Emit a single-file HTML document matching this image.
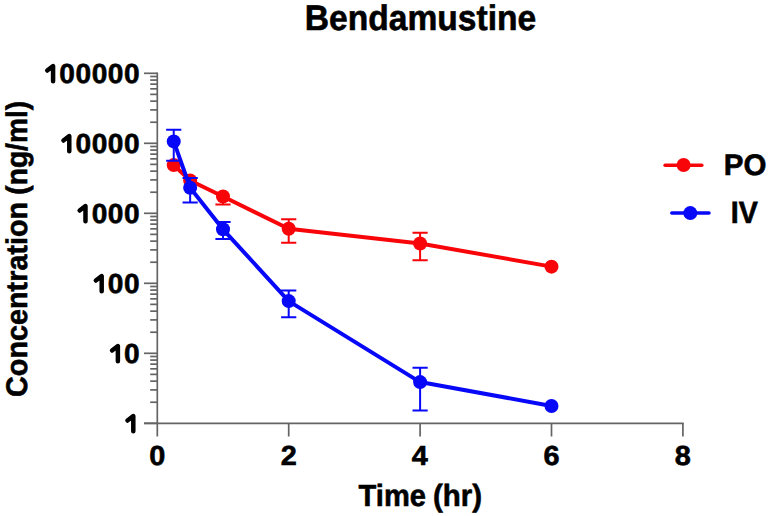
<!DOCTYPE html>
<html><head><meta charset="utf-8"><style>
html,body{margin:0;padding:0;background:#fff;}
body{width:768px;height:516px;overflow:hidden;font-family:"Liberation Sans",sans-serif;}
svg{display:block;}
</style></head><body>
<svg width="768" height="516" viewBox="0 0 768 516">
<rect width="768" height="516" fill="#fff"/>
<line x1="157.3" y1="72.50" x2="157.3" y2="436.50" stroke="#646464" stroke-width="1.7"/>
<line x1="144.00" y1="423.3" x2="683.70" y2="423.3" stroke="#646464" stroke-width="1.7"/>
<line x1="144.00" y1="423.30" x2="157.3" y2="423.30" stroke="#646464" stroke-width="1.7"/>
<line x1="150.20" y1="402.23" x2="157.3" y2="402.23" stroke="#646464" stroke-width="1.7"/>
<line x1="150.20" y1="389.90" x2="157.3" y2="389.90" stroke="#646464" stroke-width="1.7"/>
<line x1="150.20" y1="381.16" x2="157.3" y2="381.16" stroke="#646464" stroke-width="1.7"/>
<line x1="150.20" y1="374.37" x2="157.3" y2="374.37" stroke="#646464" stroke-width="1.7"/>
<line x1="150.20" y1="368.83" x2="157.3" y2="368.83" stroke="#646464" stroke-width="1.7"/>
<line x1="150.20" y1="364.14" x2="157.3" y2="364.14" stroke="#646464" stroke-width="1.7"/>
<line x1="150.20" y1="360.08" x2="157.3" y2="360.08" stroke="#646464" stroke-width="1.7"/>
<line x1="150.20" y1="356.50" x2="157.3" y2="356.50" stroke="#646464" stroke-width="1.7"/>
<line x1="144.00" y1="353.30" x2="157.3" y2="353.30" stroke="#646464" stroke-width="1.7"/>
<line x1="150.20" y1="332.23" x2="157.3" y2="332.23" stroke="#646464" stroke-width="1.7"/>
<line x1="150.20" y1="319.90" x2="157.3" y2="319.90" stroke="#646464" stroke-width="1.7"/>
<line x1="150.20" y1="311.16" x2="157.3" y2="311.16" stroke="#646464" stroke-width="1.7"/>
<line x1="150.20" y1="304.37" x2="157.3" y2="304.37" stroke="#646464" stroke-width="1.7"/>
<line x1="150.20" y1="298.83" x2="157.3" y2="298.83" stroke="#646464" stroke-width="1.7"/>
<line x1="150.20" y1="294.14" x2="157.3" y2="294.14" stroke="#646464" stroke-width="1.7"/>
<line x1="150.20" y1="290.08" x2="157.3" y2="290.08" stroke="#646464" stroke-width="1.7"/>
<line x1="150.20" y1="286.50" x2="157.3" y2="286.50" stroke="#646464" stroke-width="1.7"/>
<line x1="144.00" y1="283.30" x2="157.3" y2="283.30" stroke="#646464" stroke-width="1.7"/>
<line x1="150.20" y1="262.23" x2="157.3" y2="262.23" stroke="#646464" stroke-width="1.7"/>
<line x1="150.20" y1="249.90" x2="157.3" y2="249.90" stroke="#646464" stroke-width="1.7"/>
<line x1="150.20" y1="241.16" x2="157.3" y2="241.16" stroke="#646464" stroke-width="1.7"/>
<line x1="150.20" y1="234.37" x2="157.3" y2="234.37" stroke="#646464" stroke-width="1.7"/>
<line x1="150.20" y1="228.83" x2="157.3" y2="228.83" stroke="#646464" stroke-width="1.7"/>
<line x1="150.20" y1="224.14" x2="157.3" y2="224.14" stroke="#646464" stroke-width="1.7"/>
<line x1="150.20" y1="220.08" x2="157.3" y2="220.08" stroke="#646464" stroke-width="1.7"/>
<line x1="150.20" y1="216.50" x2="157.3" y2="216.50" stroke="#646464" stroke-width="1.7"/>
<line x1="144.00" y1="213.30" x2="157.3" y2="213.30" stroke="#646464" stroke-width="1.7"/>
<line x1="150.20" y1="192.23" x2="157.3" y2="192.23" stroke="#646464" stroke-width="1.7"/>
<line x1="150.20" y1="179.90" x2="157.3" y2="179.90" stroke="#646464" stroke-width="1.7"/>
<line x1="150.20" y1="171.16" x2="157.3" y2="171.16" stroke="#646464" stroke-width="1.7"/>
<line x1="150.20" y1="164.37" x2="157.3" y2="164.37" stroke="#646464" stroke-width="1.7"/>
<line x1="150.20" y1="158.83" x2="157.3" y2="158.83" stroke="#646464" stroke-width="1.7"/>
<line x1="150.20" y1="154.14" x2="157.3" y2="154.14" stroke="#646464" stroke-width="1.7"/>
<line x1="150.20" y1="150.08" x2="157.3" y2="150.08" stroke="#646464" stroke-width="1.7"/>
<line x1="150.20" y1="146.50" x2="157.3" y2="146.50" stroke="#646464" stroke-width="1.7"/>
<line x1="144.00" y1="143.30" x2="157.3" y2="143.30" stroke="#646464" stroke-width="1.7"/>
<line x1="150.20" y1="122.23" x2="157.3" y2="122.23" stroke="#646464" stroke-width="1.7"/>
<line x1="150.20" y1="109.90" x2="157.3" y2="109.90" stroke="#646464" stroke-width="1.7"/>
<line x1="150.20" y1="101.16" x2="157.3" y2="101.16" stroke="#646464" stroke-width="1.7"/>
<line x1="150.20" y1="94.37" x2="157.3" y2="94.37" stroke="#646464" stroke-width="1.7"/>
<line x1="150.20" y1="88.83" x2="157.3" y2="88.83" stroke="#646464" stroke-width="1.7"/>
<line x1="150.20" y1="84.14" x2="157.3" y2="84.14" stroke="#646464" stroke-width="1.7"/>
<line x1="150.20" y1="80.08" x2="157.3" y2="80.08" stroke="#646464" stroke-width="1.7"/>
<line x1="150.20" y1="76.50" x2="157.3" y2="76.50" stroke="#646464" stroke-width="1.7"/>
<line x1="144.00" y1="73.30" x2="157.3" y2="73.30" stroke="#646464" stroke-width="1.7"/>
<line x1="288.70" y1="423.3" x2="288.70" y2="436.50" stroke="#646464" stroke-width="1.7"/>
<line x1="420.10" y1="423.3" x2="420.10" y2="436.50" stroke="#646464" stroke-width="1.7"/>
<line x1="551.50" y1="423.3" x2="551.50" y2="436.50" stroke="#646464" stroke-width="1.7"/>
<line x1="682.90" y1="423.3" x2="682.90" y2="436.50" stroke="#646464" stroke-width="1.7"/>
<polyline points="173.73,165.11 190.15,180.50 223.00,196.50 288.70,228.78 420.10,243.44 551.50,266.64" fill="none" stroke="#f8050a" stroke-width="4.0" stroke-linejoin="round"/>
<path d="M223.00 196.50V204.61M215.40 204.61H230.60" stroke="#f8050a" stroke-width="2.0" fill="none"/>
<path d="M281.10 219.30H296.30M288.70 219.30V242.64M281.10 242.64H296.30" stroke="#f8050a" stroke-width="2.0" fill="none"/>
<path d="M412.50 232.72H427.70M420.10 232.72V260.17M412.50 260.17H427.70" stroke="#f8050a" stroke-width="2.0" fill="none"/>
<circle cx="173.73" cy="165.11" r="7.0" fill="#f8050a"/>
<circle cx="190.15" cy="180.50" r="7.0" fill="#f8050a"/>
<circle cx="223.00" cy="196.50" r="7.0" fill="#f8050a"/>
<circle cx="288.70" cy="228.78" r="7.0" fill="#f8050a"/>
<circle cx="420.10" cy="243.44" r="7.0" fill="#f8050a"/>
<circle cx="551.50" cy="266.64" r="7.0" fill="#f8050a"/>
<polyline points="173.73,141.39 190.15,187.77 223.00,229.29 288.70,301.09 420.10,382.08 551.50,405.94" fill="none" stroke="#0808f8" stroke-width="4.0" stroke-linejoin="round"/>
<path d="M166.13 129.68H181.33M173.73 129.68V160.66M166.13 160.66H181.33" stroke="#0808f8" stroke-width="2.0" fill="none"/>
<path d="M182.55 177.89H197.75M190.15 177.89V202.49M182.55 202.49H197.75" stroke="#0808f8" stroke-width="2.0" fill="none"/>
<path d="M215.40 222.01H230.60M223.00 222.01V238.89M215.40 238.89H230.60" stroke="#0808f8" stroke-width="2.0" fill="none"/>
<path d="M281.10 290.58H296.30M288.70 290.58V317.28M281.10 317.28H296.30" stroke="#0808f8" stroke-width="2.0" fill="none"/>
<path d="M412.50 367.64H427.70M420.10 367.64V410.57M412.50 410.57H427.70" stroke="#0808f8" stroke-width="2.0" fill="none"/>
<circle cx="173.73" cy="141.39" r="7.0" fill="#0808f8"/>
<circle cx="190.15" cy="187.77" r="7.0" fill="#0808f8"/>
<circle cx="223.00" cy="229.29" r="7.0" fill="#0808f8"/>
<circle cx="288.70" cy="301.09" r="7.0" fill="#0808f8"/>
<circle cx="420.10" cy="382.08" r="7.0" fill="#0808f8"/>
<circle cx="551.50" cy="405.94" r="7.0" fill="#0808f8"/>
<line x1="665.1" y1="165.2" x2="701.8" y2="165.2" stroke="#f8050a" stroke-width="3.5" stroke-linecap="round"/>
<circle cx="683.6" cy="165.0" r="7.0" fill="#f8050a"/>
<line x1="671.8" y1="213.1" x2="709.0" y2="213.1" stroke="#0808f8" stroke-width="3.5" stroke-linecap="round"/>
<circle cx="690.3" cy="213.1" r="7.0" fill="#0808f8"/>
<g fill="#000" stroke="#000" stroke-width="0.6" font-family="Liberation Sans, sans-serif" font-weight="bold" text-rendering="geometricPrecision">
<text transform="translate(304.72,29.70) scale(0.9463,1)" font-size="35.5">Bendamustine</text>
<path d="M127.44 420.50L133.30 416.05V431.15" stroke="#000" stroke-width="4.50" stroke-linecap="round" stroke-linejoin="round" fill="none"/>
<text transform="translate(124.05,363.10) scale(1.02,1)" font-size="27.5">0</text>
<path d="M112.02 350.50L117.88 346.05V361.15" stroke="#000" stroke-width="4.50" stroke-linecap="round" stroke-linejoin="round" fill="none"/>
<text transform="translate(124.05,293.10) scale(1.02,1)" font-size="27.5">0</text>
<text transform="translate(107.85,293.10) scale(1.02,1)" font-size="27.5">0</text>
<path d="M95.82 280.50L101.68 276.05V291.15" stroke="#000" stroke-width="4.50" stroke-linecap="round" stroke-linejoin="round" fill="none"/>
<text transform="translate(124.05,223.10) scale(1.02,1)" font-size="27.5">0</text>
<text transform="translate(107.85,223.10) scale(1.02,1)" font-size="27.5">0</text>
<text transform="translate(91.65,223.10) scale(1.02,1)" font-size="27.5">0</text>
<path d="M79.62 210.50L85.48 206.05V221.15" stroke="#000" stroke-width="4.50" stroke-linecap="round" stroke-linejoin="round" fill="none"/>
<text transform="translate(124.05,153.10) scale(1.02,1)" font-size="27.5">0</text>
<text transform="translate(107.85,153.10) scale(1.02,1)" font-size="27.5">0</text>
<text transform="translate(91.65,153.10) scale(1.02,1)" font-size="27.5">0</text>
<text transform="translate(75.45,153.10) scale(1.02,1)" font-size="27.5">0</text>
<path d="M63.42 140.50L69.28 136.05V151.15" stroke="#000" stroke-width="4.50" stroke-linecap="round" stroke-linejoin="round" fill="none"/>
<text transform="translate(124.05,83.10) scale(1.02,1)" font-size="27.5">0</text>
<text transform="translate(107.85,83.10) scale(1.02,1)" font-size="27.5">0</text>
<text transform="translate(91.65,83.10) scale(1.02,1)" font-size="27.5">0</text>
<text transform="translate(75.45,83.10) scale(1.02,1)" font-size="27.5">0</text>
<text transform="translate(59.25,83.10) scale(1.02,1)" font-size="27.5">0</text>
<path d="M47.22 70.50L53.08 66.05V81.15" stroke="#000" stroke-width="4.50" stroke-linecap="round" stroke-linejoin="round" fill="none"/>
<text transform="translate(149.19,465.10) scale(1.0500,1)" font-size="27.5">0</text>
<text transform="translate(280.66,465.10) scale(1.0500,1)" font-size="27.5">2</text>
<text transform="translate(411.84,465.10) scale(1.0500,1)" font-size="27.5">4</text>
<text transform="translate(543.39,465.10) scale(1.0500,1)" font-size="27.5">6</text>
<text transform="translate(674.79,465.10) scale(1.0500,1)" font-size="27.5">8</text>
<text transform="translate(358.61,506.20) scale(0.9502,1)" font-size="30.6">Time</text>
<text transform="translate(432.93,506.20) scale(0.9626,1)" font-size="30.6">(hr)</text>
<text transform="translate(27.30,396.95) rotate(-90) scale(0.9662,1)" font-size="29.8">Concentration</text>
<text transform="translate(27.30,194.71) rotate(-90) scale(0.9460,1)" font-size="29.8">(ng/ml)</text>
<text transform="translate(723.78,174.90) scale(0.9959,1)" font-size="29.6">PO</text>
<text transform="translate(730.84,222.70) scale(0.9323,1)" font-size="30.7">IV</text>
</g>
</svg>
</body></html>
